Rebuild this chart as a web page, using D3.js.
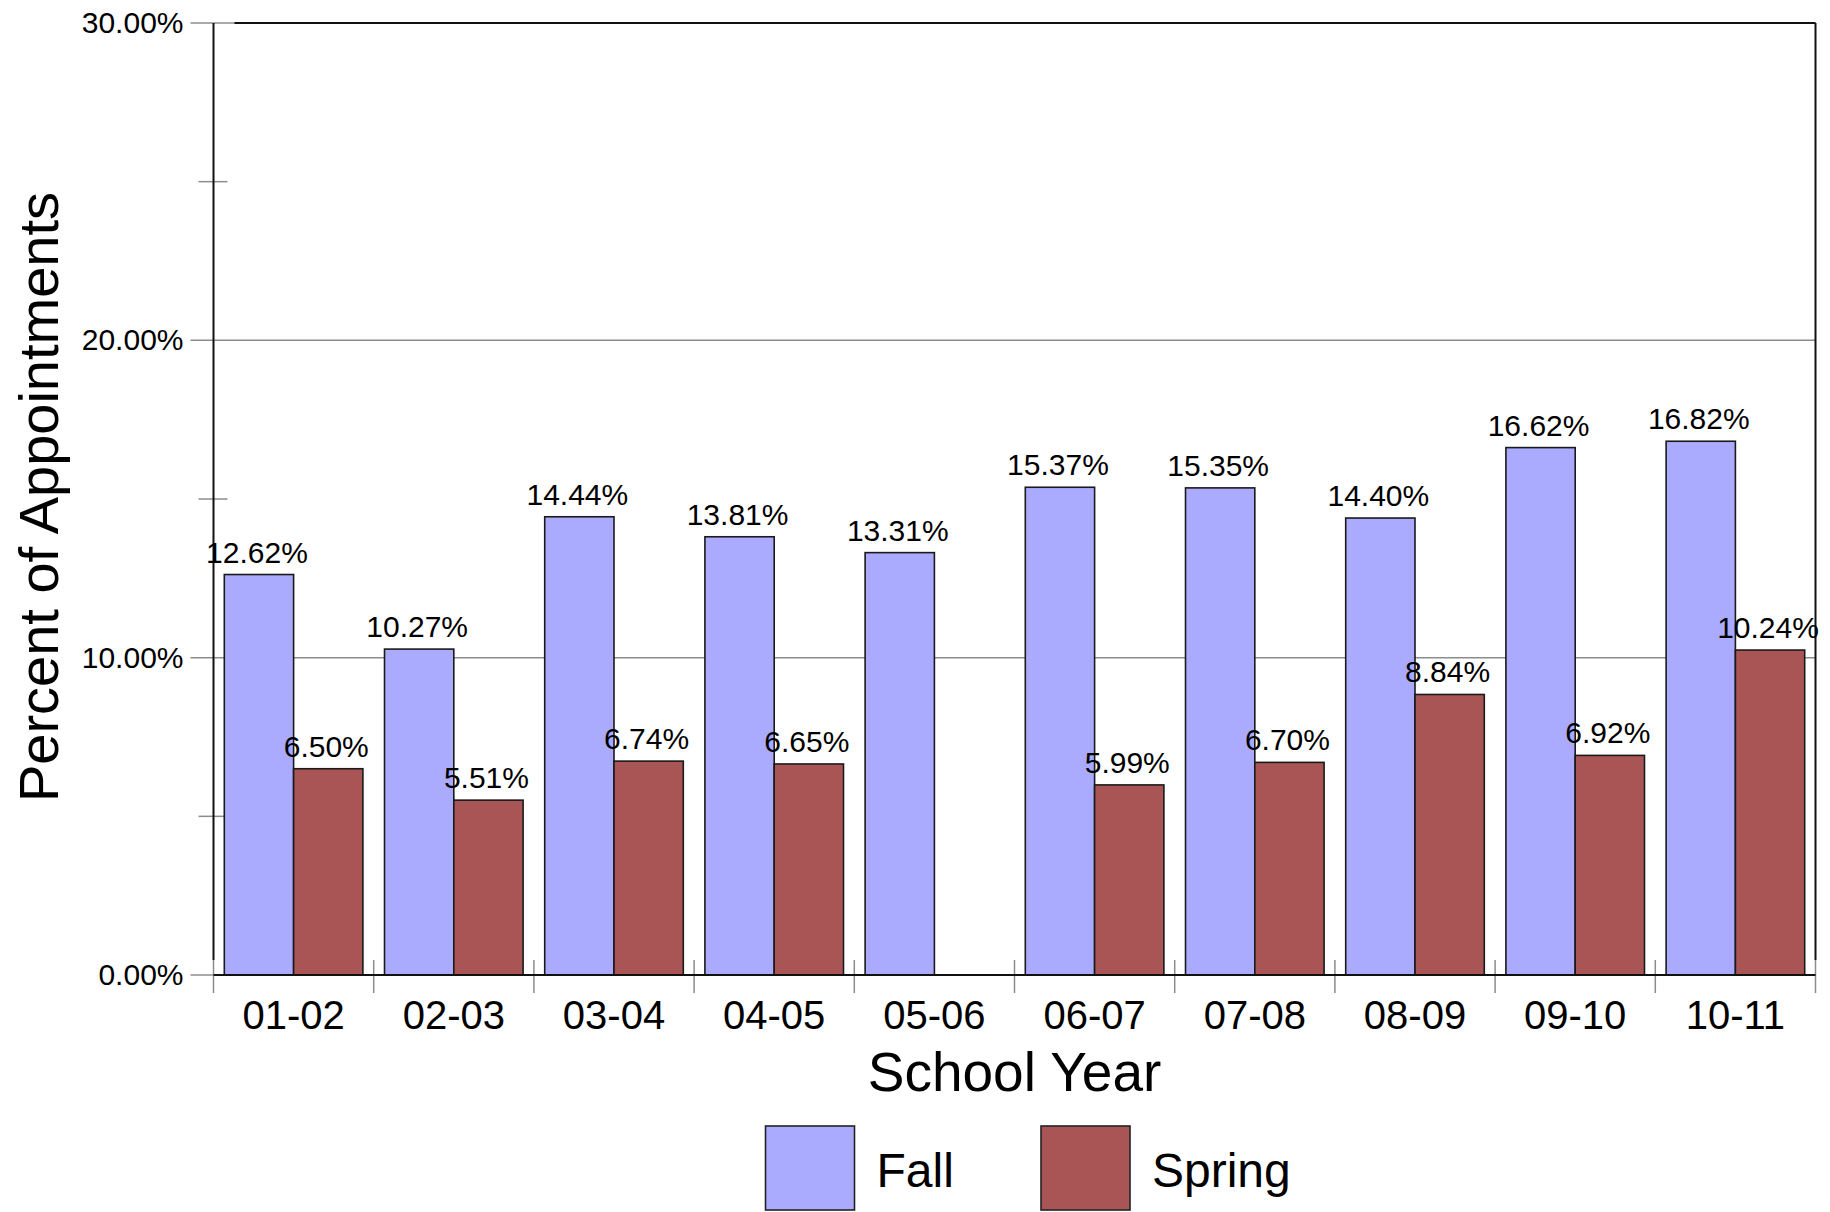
<!DOCTYPE html>
<html>
<head>
<meta charset="utf-8">
<script src="https://cdn.jsdelivr.net/npm/d3@7"></script>
<style>
  body { margin: 0; background: #fff; }
  text { font-family: "Liberation Sans", Arial, sans-serif; fill: #000; }
</style>
</head>
<body>
<div id="chart"></div>
<script>
// school years and the two terms
const years = ['01-02', '02-03', '03-04', '04-05', '05-06', '06-07', '07-08', '08-09', '09-10', '10-11'];
const terms = ['Fall', 'Spring'];
const fall = [12.62, 10.27, 14.44, 13.81, 13.31, 15.37, 15.35, 14.40, 16.62, 16.82];
const spring = [6.50, 5.51, 6.74, 6.65, null, 5.99, 6.70, 8.84, 6.92, 10.24];
const majorTicks = [0, 10, 20, 30];
const minorTicks = [5, 15, 25];

const colors = {Fall: '#aaaaff', Spring: '#aa5555'};

var width = 1830, height = 1212;
const plot = {left: 213.5, right: 1815.5, top: 23, bottom: 975};

var svg = d3.select('#chart')
    .append('svg')
    .attr('width', width)
    .attr('height', height);

let x0 = d3.scaleBand()
    .domain(years)
    .range([plot.left, plot.right])
    .padding(0);

let x1 = d3.scaleBand()
    .domain(terms)
    .range([0, x0.bandwidth()])
    .paddingInner(0)
    .paddingOuter(0.156);

let y = d3.scaleLinear()
    .domain([0, 30])
    .range([plot.bottom, plot.top]);

// grid lines (gray), start a bit left of the axis like tick marks
svg.append('g')
    .selectAll('line')
    .data(majorTicks)
    .enter()
    .append('line')
    .attr('x1', plot.left - 23)
    .attr('x2', plot.right)
    .attr('y1', d => y(d))
    .attr('y2', d => y(d))
    .attr('stroke', '#8c8c8c')
    .attr('stroke-width', 1.5);

// minor ticks crossing the y axis
svg.append('g')
    .selectAll('line')
    .data(minorTicks)
    .enter()
    .append('line')
    .attr('x1', plot.left - 15)
    .attr('x2', plot.left + 14)
    .attr('y1', d => y(d))
    .attr('y2', d => y(d))
    .attr('stroke', '#8c8c8c')
    .attr('stroke-width', 1.5);

// y axis labels
let y_axis = d3.axisLeft(y)
    .tickValues(majorTicks)
    .tickFormat(d => d.toFixed(2) + '%')
    .tickSize(0)
    .tickPadding(30);

let yg = svg.append('g')
    .attr('transform', 'translate(' + plot.left + ',0)')
    .call(y_axis);
yg.select('.domain').remove();
yg.selectAll('text')
    .attr('font-size', '30px')
    .attr('font-family', '"Liberation Sans", Arial, sans-serif')
    .attr('fill', '#000');

// x axis: tick marks at category boundaries
let x_axis = d3.axisBottom(x0).tickSize(0).tickPadding(54);
let xg = svg.append('g')
    .attr('transform', 'translate(0,' + plot.bottom + ')')
    .call(x_axis);
xg.select('.domain').remove();
xg.selectAll('text')
    .attr('font-size', '40px')
    .attr('font-family', '"Liberation Sans", Arial, sans-serif')
    .attr('fill', '#000')
    .attr('dy', '0');

const bounds = years.map(d => x0(d)).concat([plot.right]);
svg.append('g')
    .selectAll('line')
    .data(bounds)
    .enter()
    .append('line')
    .attr('x1', d => d)
    .attr('x2', d => d)
    .attr('y1', plot.bottom - 15)
    .attr('y2', plot.bottom + 18)
    .attr('stroke', '#8c8c8c')
    .attr('stroke-width', 1.5);

// bars
const rows = [];
years.forEach((yr, i) => {
    rows.push({year: yr, term: 'Fall', value: fall[i]});
    if (spring[i] !== null) rows.push({year: yr, term: 'Spring', value: spring[i]});
});

svg.append('g')
    .selectAll('rect')
    .data(rows)
    .enter()
    .append('rect')
    .attr('x', d => x0(d.year) + x1(d.term))
    .attr('y', d => y(d.value))
    .attr('width', x1.bandwidth())
    .attr('height', d => y(0) - y(d.value))
    .attr('fill', d => colors[d.term])
    .attr('stroke', '#1a1a1a')
    .attr('stroke-width', 1.6);

// frame
svg.append('line')
    .attr('x1', plot.left).attr('x2', plot.right)
    .attr('y1', plot.bottom).attr('y2', plot.bottom)
    .attr('stroke', '#111').attr('stroke-width', 2);
svg.append('line')
    .attr('x1', plot.left + 21).attr('x2', plot.right)
    .attr('y1', plot.top).attr('y2', plot.top)
    .attr('stroke', '#111').attr('stroke-width', 2);
svg.append('line')
    .attr('x1', plot.left).attr('x2', plot.left)
    .attr('y1', plot.top).attr('y2', plot.bottom - 15)
    .attr('stroke', '#111').attr('stroke-width', 2);
svg.append('line')
    .attr('x1', plot.right).attr('x2', plot.right)
    .attr('y1', plot.top).attr('y2', plot.bottom - 15)
    .attr('stroke', '#111').attr('stroke-width', 2);

// value labels
svg.append('g')
    .selectAll('text')
    .data(rows)
    .enter()
    .append('text')
    .attr('x', d => x0(d.year) + x1(d.term) + x1.bandwidth() / 2 - 2)
    .attr('y', d => y(d.value) - 12)
    .attr('text-anchor', 'middle')
    .attr('font-size', '30px')
    .text(d => d.value.toFixed(2) + '%');

// axis titles
svg.append('text')
    .attr('x', (plot.left + plot.right) / 2)
    .attr('y', 1091)
    .attr('text-anchor', 'middle')
    .attr('font-size', '55px')
    .text('School Year');

svg.append('text')
    .attr('transform', 'translate(58,497) rotate(-90)')
    .attr('text-anchor', 'middle')
    .attr('font-size', '56px')
    .text('Percent of Appointments');

// legend
const legendX = [765.5, 1041];
let legend = svg.append('g')
    .selectAll('g')
    .data(terms)
    .enter()
    .append('g')
    .attr('transform', (d, i) => 'translate(' + legendX[i] + ',1126)');

legend.append('rect')
    .attr('width', 89)
    .attr('height', 84)
    .attr('fill', d => colors[d])
    .attr('stroke', '#222')
    .attr('stroke-width', 1.6);

legend.append('text')
    .attr('x', 111)
    .attr('y', 61)
    .attr('font-size', '48px')
    .text(d => d);
</script>
</body>
</html>
